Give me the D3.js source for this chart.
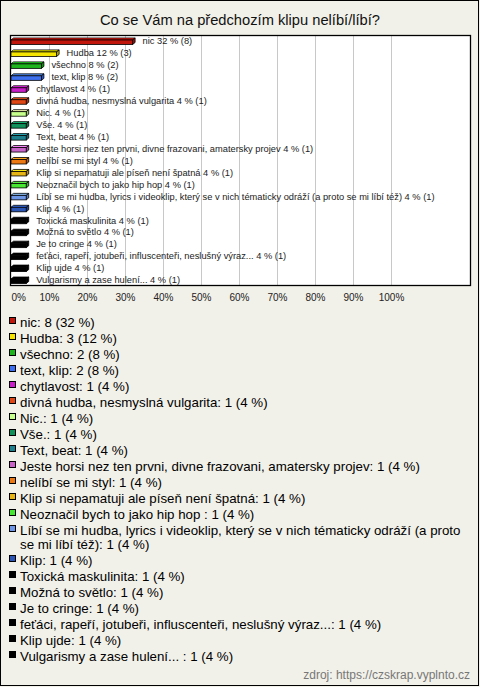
<!DOCTYPE html>
<html><head><meta charset="utf-8">
<script src="https://cdn.jsdelivr.net/npm/d3@7"></script>
<style>body{margin:0;background:#f2f1e9;} svg{display:block;}</style>
</head><body>
<svg id="c" width="480" height="687"></svg>
<script>
const title = "Co se Vám na předchozím klipu nelíbí/líbí?";
const categories = ["nic","Hudba","všechno","text, klip","chytlavost","divná hudba, nesmyslná vulgarita","Nic.","Vše.","Text, beat","Jeste horsi nez ten prvni, divne frazovani, amatersky projev","nelíbí se mi styl","Klip si nepamatuji ale píseň není špatná","Neoznačil bych to jako hip hop ","Líbí se mi hudba, lyrics i videoklip, který se v nich tématicky odráží (a proto se mi líbí též)","Klip","Toxická maskulinita","Možná to světlo","Je to cringe","feťáci, rapeří, jotubeři, influscenteři, neslušný výraz...","Klip ujde","Vulgarismy a zase hulení... "];
const counts = [8,3,2,2,1,1,1,1,1,1,1,1,1,1,1,1,1,1,1,1,1];
const percents = [32,12,8,8,4,4,4,4,4,4,4,4,4,4,4,4,4,4,4,4,4];
const colors = ["#c0160c","#f5e400","#1db41d","#3c6ff0","#c81ec8","#e04614","#c6ff8c","#10905a","#1d7f8c","#c864c8","#ec7814","#e6b414","#46e632","#6e96e6","#2a55b4","#000000","#000000","#000000","#000000","#000000","#000000"];
const tickValues = [0,10,20,30,40,50,60,70,80,90,100];
const source = "zdroj: https://czskrap.vyplnto.cz";

const svg = d3.select("#c");
const font = "'Liberation Sans', Arial, sans-serif";

svg.append("rect").attr("x",0.5).attr("y",0.5).attr("width",478).attr("height",685)
  .attr("fill","#f2f1e9").attr("stroke","#000");

svg.append("text").attr("x",240).attr("y",25).attr("text-anchor","middle")
  .attr("font-family",font).attr("font-size",14.7).attr("fill","#111").text(title);

const x = d3.scaleLinear().domain([0,100]).range([11,391]);
const y = d3.scaleBand().domain(categories).range([35,286]);

svg.append("rect").attr("x",10.5).attr("y",35.5).attr("width",460).attr("height",250)
  .attr("fill","#fff");

svg.append("g").selectAll("line").data(tickValues.filter(t=>t>0)).join("line")
  .attr("x1",d=>Math.round(x(d))+0.5).attr("x2",d=>Math.round(x(d))+0.5)
  .attr("y1",36).attr("y2",286).attr("stroke","#c8c8c8");

svg.append("rect").attr("x",10.5).attr("y",35.5).attr("width",460).attr("height",250)
  .attr("fill","none").attr("stroke","#000").attr("stroke-width",1.3);

const data = categories.map((c,i)=>({c, v:percents[i], n:counts[i], col:colors[i]}));
const dx = 2.5, dy = 2;
const bars = svg.append("g").selectAll("g").data(data).join("g");
bars.each(function(d){
  const g = d3.select(this);
  const cy = y(d.c) + y.bandwidth()/2;
  const x0 = x(0), x1 = x(d.v);
  const t = cy - 1, b = cy + 3.5;
  const base = d3.color(d.col);
  g.append("path").attr("d",`M${x0},${t}L${x0+dx},${t-dy}L${x1+dx},${t-dy}L${x1},${t}Z`)
    .attr("fill", d.col==="#000000" ? "#000" : base.brighter(0.8)).attr("stroke","#000").attr("stroke-width",0.8);
  g.append("path").attr("d",`M${x1},${t}L${x1+dx},${t-dy}L${x1+dx},${b-dy}L${x1},${b}Z`)
    .attr("fill", base.darker(0.7)).attr("stroke","#000").attr("stroke-width",0.8);
  g.append("rect").attr("x",x0).attr("y",t).attr("width",x1-x0).attr("height",b-t)
    .attr("fill",d.col).attr("stroke","#000").attr("stroke-width",0.8);
  g.append("text").attr("x",x1+10).attr("y",cy).attr("dy","0.35em")
    .attr("font-family",font).attr("font-size",9.3).attr("fill","#222")
    .text(`${d.c} ${d.v} % (${d.n})`);
});

const axis = d3.axisBottom(x).tickValues(tickValues).tickFormat(d=>d+"%").tickSize(0).tickPadding(0);
const ag = svg.append("g").attr("transform","translate(0,294)").call(axis);
ag.select(".domain").remove();
ag.selectAll("text").attr("font-family",font).attr("font-size",10).attr("fill","#222")
  .attr("text-anchor",d=>d===0?"start":"middle");

const lg = svg.append("g");
let ly = 322;
const maxW = 445;
data.forEach((d)=>{
  lg.append("rect").attr("x",9.5).attr("y",ly-4.5).attr("width",6).attr("height",6)
    .attr("fill",d.col).attr("stroke","#000");
  const label = `${d.c}: ${d.n} (${d.v} %)`;
  const txt = lg.append("text").attr("x",20).attr("y",ly).attr("dy","0.35em")
    .attr("font-family",font).attr("font-size",13.3).attr("fill","#000");
  const words = label.split(" ");
  let line = [];
  let tspan = txt.append("tspan").attr("x",20);
  let extra = 0;
  words.forEach(w=>{
    line.push(w);
    tspan.text(line.join(" "));
    if (tspan.node().getComputedTextLength() > maxW && line.length>1){
      line.pop();
      tspan.text(line.join(" "));
      line=[w];
      extra += 14;
      tspan = txt.append("tspan").attr("x",20).attr("dy",14).text(w);
    }
  });
  ly += 16 + extra;
});

svg.append("text").attr("x",470).attr("y",679).attr("text-anchor","end")
  .attr("font-family",font).attr("font-size",12).attr("fill","#777").text(source);
</script>
</body></html>
